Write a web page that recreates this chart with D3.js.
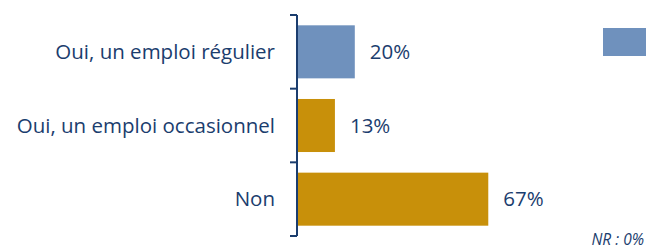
<!DOCTYPE html>
<html>
<head>
<meta charset="utf-8">
<script src="https://cdn.jsdelivr.net/npm/d3@7"></script>
<style>
  body { margin: 0; background: #fff; }
  svg { display: block; }
</style>
</head>
<body>
<div id="chart"></div>
<script>
// data
var categories = ["Oui, un emploi régulier", "Oui, un emploi occasionnel", "Non"];
var values = [20, 13, 67];
var barColors = ["#6F91BD", "#C8900A", "#C8900A"];
var noteText = "NR : 0%";

var width = 646, height = 250;
var textColor = "#1B3D6E";

var svg = d3.select("#chart").append("svg")
    .attr("width", width)
    .attr("height", height);

var margin = {top: 15, left: 297, bottom: 14};

var y = d3.scaleBand()
    .domain(categories)
    .range([margin.top, height - margin.bottom])
    .paddingInner(0.28)
    .paddingOuter(0.14);

var x = d3.scaleLinear()
    .domain([0, 100])
    .range([margin.left + 1, margin.left + 1 + 284]);

// bars
svg.append("g")
    .selectAll("rect")
    .data(values)
    .enter()
    .append("rect")
    .attr("x", x(0))
    .attr("y", function(d, i) { return y(categories[i]); })
    .attr("width", function(d) { return x(d) - x(0); })
    .attr("height", y.bandwidth())
    .attr("fill", function(d, i) { return barColors[i]; });

// value labels
svg.append("g")
    .selectAll("text")
    .data(values)
    .enter()
    .append("text")
    .attr("x", function(d) { return x(d) + 15; })
    .attr("y", function(d, i) { return y(categories[i]) + y.bandwidth() / 2; })
    .attr("dy", "0.35em")
    .attr("font-family", "'Open Sans', sans-serif")
    .attr("font-size", 20.5)
    .attr("fill", textColor)
    .text(function(d) { return d + "%"; });

// axis with ticks between categories
var axisG = svg.append("g")
    .attr("transform", "translate(" + margin.left + ",0)");

var bounds = [y.range()[0]].concat(categories.map(function(c) {
    return y(c) + y.bandwidth() + y.step() * y.paddingInner() / 2;
}));
bounds[bounds.length - 1] = y.range()[1];

axisG.append("line")
    .attr("x1", 0).attr("x2", 0)
    .attr("y1", y.range()[0]).attr("y2", y.range()[1])
    .attr("stroke", textColor)
    .attr("stroke-width", 2);

axisG.selectAll(".tick")
    .data(bounds)
    .enter()
    .append("line")
    .attr("class", "tick")
    .attr("x1", -7).attr("x2", 0)
    .attr("y1", function(d) { return d; })
    .attr("y2", function(d) { return d; })
    .attr("stroke", textColor)
    .attr("stroke-width", 2);

axisG.selectAll(".label")
    .data(categories)
    .enter()
    .append("text")
    .attr("class", "label")
    .attr("x", -22)
    .attr("y", function(d) { return y(d) + y.bandwidth() / 2; })
    .attr("dy", "0.35em")
    .attr("text-anchor", "end")
    .attr("font-family", "'Open Sans', sans-serif")
    .attr("font-size", 20.5)
    .attr("fill", textColor)
    .text(function(d) { return d; });

// legend swatch (text is cut off at the right edge)
svg.append("rect")
    .attr("x", 603)
    .attr("y", 28)
    .attr("width", 50)
    .attr("height", 28)
    .attr("fill", barColors[0]);

// note
svg.append("text")
    .attr("x", 644)
    .attr("y", 245)
    .attr("text-anchor", "end")
    .attr("font-family", "'Open Sans', sans-serif")
    .attr("font-style", "italic")
    .attr("font-size", 15.5)
    .attr("fill", textColor)
    .text(noteText);
</script>
</body>
</html>
